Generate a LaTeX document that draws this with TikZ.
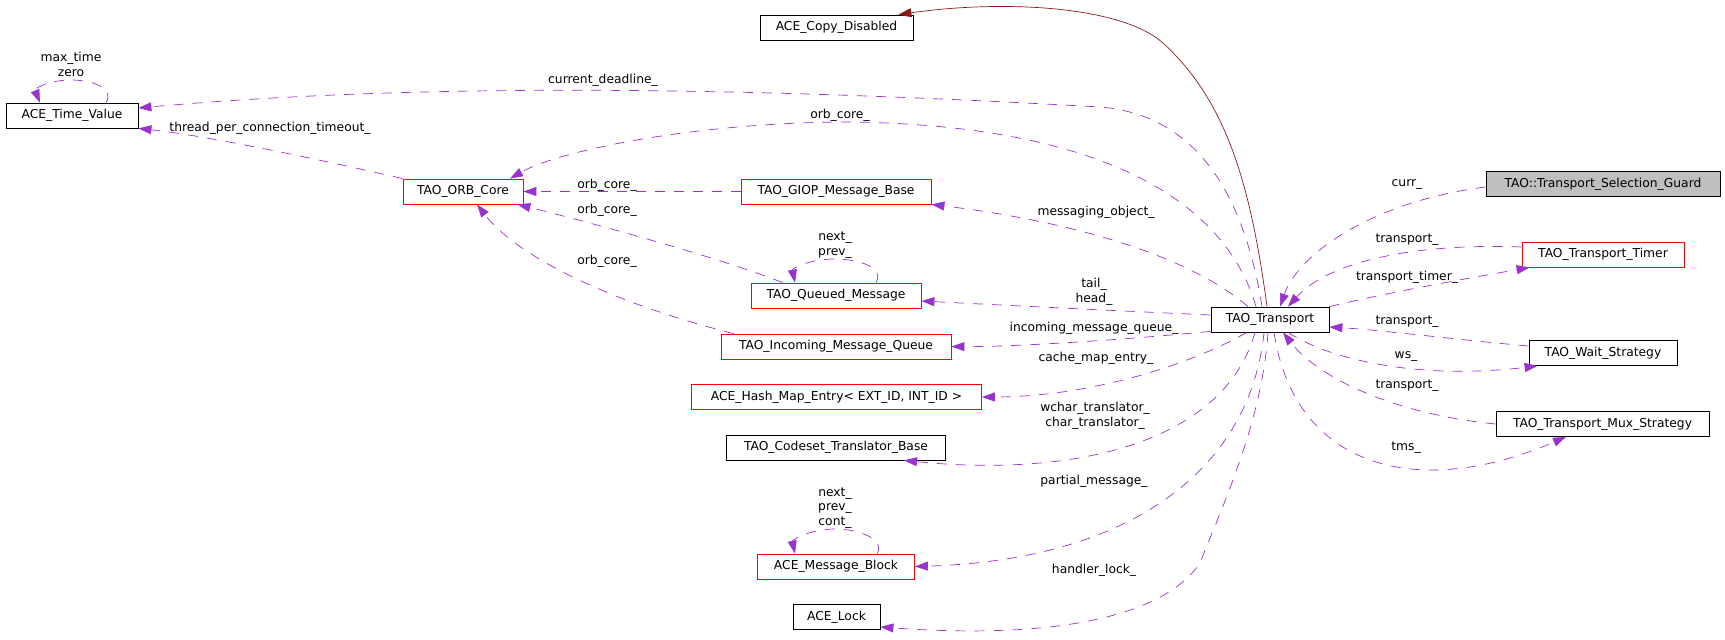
\documentclass[tikz,border=0pt]{standalone}
\usepackage{fontspec}
\setmainfont{DejaVu Sans}
\usepackage{tikz}
\usetikzlibrary{arrows.meta,positioning}
\definecolor{edgepurple}{HTML}{9A32CD}
\definecolor{inhred}{HTML}{8B1A1A}
\definecolor{guardgray}{HTML}{BFBFBF}

\begin{document}
\begin{tikzpicture}[x=1pt, y=-1pt,
   cls/.style={draw=black, line width=0.8pt, minimum height=25pt, inner sep=0pt,
      font=\fontsize{12.3}{14.5}\selectfont},
   redcls/.style={cls, draw=red},
   lbl/.style={inner sep=0pt, align=center, font=\fontsize{12.3}{14.5}\selectfont},
   dep/.style={draw=edgepurple, line width=0.7pt, dash pattern=on 10pt off 9pt,
      -{Triangle[length=13pt,width=9pt]}},
   inh/.style={draw=inhred, line width=0.7pt, -{Triangle[length=13pt,width=9pt]}}]
   \useasboundingbox (0,0) rectangle (1725,640);

   % left column
   \node[cls, minimum width=132pt] (timevalue) at (72,115.5) {ACE\_Time\_Value};
   \node[redcls, minimum width=120pt] (orbcore) at (463,191.5) {TAO\_ORB\_Core};

   % middle column
   \node[cls, minimum width=153pt] (copydisabled) at (836.5,27.5) {ACE\_Copy\_Disabled};
   \node[redcls, minimum width=190pt] (giop) at (836,191.5) {TAO\_GIOP\_Message\_Base};
   \node[redcls, minimum width=170pt] (queued) at (836,295.5) {TAO\_Queued\_Message};
   \node[redcls, minimum width=230pt] (incoming) at (836,346.5) {TAO\_Incoming\_Message\_Queue};
   \node[redcls, minimum width=290pt] (hashentry) at (836.5,397) {ACE\_Hash\_Map\_Entry< EXT\_ID, INT\_ID >};
   \node[cls, minimum width=219pt] (codeset) at (836,447.5) {TAO\_Codeset\_Translator\_Base};
   \node[redcls, minimum width=157pt] (msgblock) at (836,566.5) {ACE\_Message\_Block};
   \node[cls, minimum width=87pt] (lock) at (836.5,617) {ACE\_Lock};

   % TAO_Transport
   \node[cls, minimum width=118pt] (transport) at (1270,319.5) {TAO\_Transport};

   % right column
   \node[cls, fill=guardgray, minimum width=234pt] (guard) at (1603,184) {TAO::Transport\_Selection\_Guard};
   \node[redcls, minimum width=162pt] (timer) at (1603,254.5) {TAO\_Transport\_Timer};
   \node[cls, minimum width=148pt] (wait) at (1603,353) {TAO\_Wait\_Strategy};
   \node[cls, minimum width=213pt] (mux) at (1602.5,424) {TAO\_Transport\_Mux\_Strategy};

   % inheritance
   \draw[inh] ([xshift=-3pt]transport.north) .. controls (1250,180) and (1225,100) .. (1163,43)
      .. controls (1120,5) and (1000,0) .. ([xshift=-15pt]copydisabled.north east);

   % ACE_Time_Value
   \draw[dep] ([xshift=-8pt]transport.north) .. controls (1245,200) and (1200,115) .. (1100,107)
      .. controls (800,90) and (450,80) .. ([yshift=7.5pt]timevalue.east);
   \node[lbl] (lbldeadline) at (603,80) {current\_deadline\_};
   \draw[dep] (orbcore.north west) .. controls (300,155) and (200,135) .. (timevalue.south east);
   \node[lbl] (lbltimeout) at (270,128) {thread\_per\_connection\_timeout\_};
   \draw[dep] ([xshift=34pt]timevalue.north) .. controls (115,88) and (92,80) .. (71,80)
      .. controls (50,80) and (34,88) .. ([xshift=-32pt]timevalue.north);
   \node[lbl] (lblmaxzero) at (71,64.5) {max\_time\\zero};

   % TAO_ORB_Core
   \draw[dep] ([xshift=-14pt]transport.north) .. controls (1225,200) and (1100,125) .. (850,122)
      .. controls (700,122) and (560,150) .. ([xshift=47pt]orbcore.north);
   \node[lbl] (lblorbtop) at (840,115) {orb\_core\_};
   \draw[dep] (giop.west) -- (orbcore.east);
   \node[lbl] (lblorbgiop) at (607,185) {orb\_core\_};
   \draw[dep] ([xshift=32pt]queued.north west) .. controls (720,258) and (600,225) .. ([xshift=-6pt]orbcore.south east);
   \node[lbl] (lblorbqueued) at (607,210) {orb\_core\_};
   \draw[dep] ([xshift=13pt]incoming.north west) .. controls (620,305) and (520,260) .. ([xshift=14pt]orbcore.south);
   \node[lbl] (lblorbincoming) at (607,261) {orb\_core\_};

   % middle column members
   \draw[dep] ([xshift=-22pt]transport.north) .. controls (1200,265) and (1100,225) .. (giop.south east);
   \node[lbl] (lblmessaging) at (1096,212) {messaging\_object\_};
   \draw[dep] ([xshift=40pt]queued.north) .. controls (885,268) and (860,259) .. (835,259)
      .. controls (810,259) and (792,268) .. ([xshift=-41pt]queued.north);
   \node[lbl] (lblqueuedloop) at (835,245) {next\_\\prev\_};
   \draw[dep] ([yshift=4.5pt]transport.west) .. controls (1100,310) and (1000,305) .. ([yshift=-5.5pt]queued.east);
   \node[lbl] (lbltailhead) at (1094,292) {tail\_\\head\_};
   \draw[dep] ([yshift=1pt]transport.south west) .. controls (1100,342) and (1000,347) .. (incoming.east);
   \node[lbl] (lblincoming) at (1094,328) {incoming\_message\_queue\_};
   \draw[dep] ([xshift=-23pt]transport.south) .. controls (1180,370) and (1080,397) .. (hashentry.east);
   \node[lbl] (lblcache) at (1096,358) {cache\_map\_entry\_};
   \draw[dep] ([xshift=-15pt]transport.south) .. controls (1225,440) and (1080,478) .. ([xshift=68pt]codeset.south);
   \node[lbl] (lbltranslator) at (1095,416) {wchar\_translator\_\\char\_translator\_};
   \draw[dep] ([xshift=-6pt]transport.south) .. controls (1250,470) and (1130,560) .. (msgblock.east);
   \node[lbl] (lblpartial) at (1094,481) {partial\_message\_};
   \draw[dep] ([xshift=41pt]msgblock.north) .. controls (886,540) and (860,529) .. (835,529)
      .. controls (810,529) and (792,540) .. ([xshift=-41pt]msgblock.north);
   \node[lbl] (lblblockloop) at (835,508) {next\_\\prev\_\\cont\_};
   \draw[dep] ([xshift=-2pt]transport.south) .. controls (1262,420) and (1225,500) .. (1200,563)
      .. controls (1165,615) and (1060,640) .. ([yshift=-10pt]lock.east);
   \node[lbl] (lbllock) at (1094,570) {handler\_lock\_};

   % right column members
   \draw[dep] ([yshift=-3pt]guard.west) .. controls (1380,200) and (1300,250) .. ([xshift=10pt]transport.north);
   \node[lbl] (lblcurr) at (1407,185) {curr\_};
   \draw[dep] ([yshift=7.5pt]timer.west) .. controls (1420,243) and (1330,260) .. ([xshift=18pt]transport.north);
   \node[lbl] (lbltimertransport) at (1407,240) {transport\_};
   \draw[dep] (transport.north east) .. controls (1400,290) and (1470,278) .. ([xshift=8pt]timer.south west);
   \node[lbl] (lbltimer) at (1407,277) {transport\_timer\_};
   \draw[dep] ([yshift=7pt]wait.west) .. controls (1460,340) and (1380,330) .. ([yshift=-7.5pt]transport.east);
   \node[lbl] (lblwaittransport) at (1407,322) {transport\_};
   \draw[dep] ([xshift=18pt]transport.south) .. controls (1330,360) and (1420,380) .. ([xshift=9pt]wait.south west);
   \node[lbl] (lblws) at (1406,357) {ws\_};
   \draw[dep] (mux.west) .. controls (1400,415) and (1320,380) .. ([xshift=13pt]transport.south);
   \node[lbl] (lblmuxtransport) at (1407,386) {transport\_};
   \draw[dep] ([xshift=4pt]transport.south) .. controls (1295,470) and (1420,500) .. ([xshift=-36.5pt]mux.south);
   \node[lbl] (lbltms) at (1406,448) {tms\_};

\end{tikzpicture}
\end{document}
